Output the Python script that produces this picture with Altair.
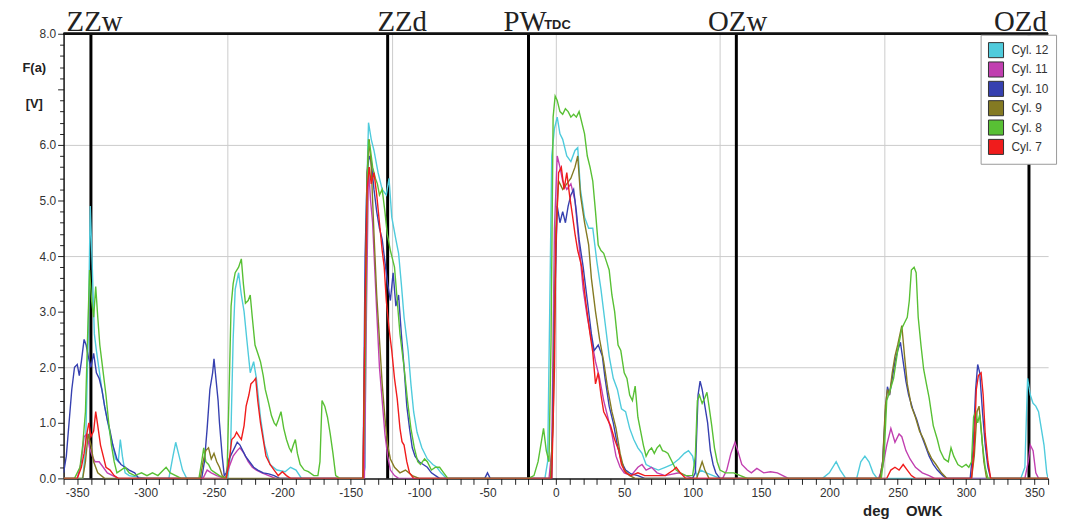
import altair as alt
import pandas as pd

# ---------------- data ----------------
names = ["Cyl. 12", "Cyl. 11", "Cyl. 10", "Cyl. 9", "Cyl. 8", "Cyl. 7"]
colors = ["#4fcbdc", "#c13fb0", "#3640b0", "#847a22", "#58c034", "#f01c1c"]

cyl12_x = [-360, -346, -344, -342, -340.5, -339, -337.5, -336, -334, -332, -330, -328, -326, -324, -322, -320,
           -318.5, -317, -315, -312, -300, -283, -280, -278, -276, -273, -270,
           -240, -238, -236, -234.5, -232, -230, -228, -226, -223.5, -221, -219, -216, -213, -209, -204, -198,
           -194, -190, -186,
           -141, -139.5, -138.5, -137, -135, -133, -130, -127, -124, -122, -120, -117, -115, -113, -111, -108,
           -106, -104, -101.5, -98, -94, -90, -87, -84, -80,
           -8, -6, -4.5, -3, -1, 1, 3, 5, 8, 11, 14, 16, 18, 21, 24, 27, 30, 33, 36, 39, 42, 45, 48, 51, 54, 57,
           60, 63, 66, 70, 75, 80, 85, 90, 94, 97, 100, 103, 106, 110, 115, 120,
           195, 200, 205, 208, 212, 220, 223, 226, 229, 232, 235,
           340, 343, 345, 347, 349, 351, 353, 355, 357, 359, 360]
cyl12_y = [0, 0, 0.5, 2.5, 4.9, 3.8, 2.6, 2.3, 1.95, 1.6, 1.3, 1.05, 0.8, 0.6, 0.35, 0.3,
           0.7, 0.4, 0.1, 0.05, 0, 0, 0.4, 0.65, 0.45, 0.15, 0,
           0, 0.4, 2.5, 3.4, 3.7, 3.3, 3.0, 2.5, 1.9, 2.1, 1.8, 1.1, 0.6, 0.25, 0.15, 0.12,
           0.2, 0.15, 0,
           0, 0.2, 5.0, 6.4, 6.1, 5.9, 5.5, 5.2, 5.1, 5.4, 4.7, 4.3, 4.05, 3.5, 2.9, 2.3,
           1.7, 1.2, 0.83, 0.55, 0.35, 0.25, 0.2, 0.1, 0,
           0, 0.3, 3.0, 5.8, 6.3, 6.5, 6.2, 6.1, 5.8, 5.7, 5.9, 5.95, 5.2, 4.7, 4.5, 4.5, 3.9, 3.4, 2.8, 2.2, 1.8,
           1.6, 1.25, 1.2, 0.9, 0.7,
           0.55, 0.45, 0.25, 0.2, 0.15, 0.2, 0.25, 0.35, 0.45, 0.5, 0.4, 0.05, 0.15, 0.1, 0.05, 0,
           0, 0.1, 0.3, 0.15, 0, 0, 0.3, 0.4, 0.3, 0.1, 0,
           0, 0.2, 1.8, 1.5, 1.35, 1.3, 1.2, 0.9, 0.6, 0.1, 0]

cyl11_x = [-360, -350, -347, -345, -343, -341, -339, -337, -334, -331, -328, -324, -320,
           -258, -255, -252, -248, -242, -239, -236, -233, -231, -228, -225, -222, -219, -215, -210, -205,
           -140, -138.5, -137, -135.5, -134, -132.5, -131, -129, -127, -125, -123, -121, -118, -115,
           -5, -3, -1, 1, 3, 5, 8, 11, 14, 17, 20, 23, 26, 29, 32, 35, 38, 41, 44, 47, 50, 55, 60, 63, 66, 70,
           74, 80, 90, 95, 100,
           122, 125, 128, 131, 133, 136, 140, 143, 147, 152, 157, 162, 166, 170,
           236, 239, 242, 245, 248, 251, 253, 256, 259, 263, 268, 273, 277,
           343, 345.5, 347, 349, 351, 353, 360]
cyl11_y = [0, 0, 0.3, 0.75, 0.8, 0.55, 0.4, 0.3, 0.3, 0.2, 0.1, 0.05, 0,
           0, 0.15, 0.1, 0.05, 0, 0.2, 0.4, 0.5, 0.55, 0.45, 0.3, 0.2, 0.15, 0.1, 0.05, 0,
           0, 3.0, 5.6, 5.0, 4.6, 3.8, 3.0, 2.0, 1.4, 0.8, 0.4, 0.15, 0.05, 0,
           0, 0.5, 4.5, 5.8, 5.6, 5.35, 5.2, 5.3, 5.0, 4.2, 3.4, 2.9, 2.5, 2.1, 1.8, 1.4, 1.1, 0.8, 0.4, 0.2, 0.1,
           0.05, 0.2, 0.25, 0.15, 0.2,
           0.1, 0.05, 0.1, 0.05, 0,
           0, 0.15, 0.45, 0.65, 0.5, 0.25, 0.15, 0.1, 0.18, 0.1, 0.12, 0.1, 0.05, 0,
           0, 0.2, 0.6, 0.9, 0.65, 0.8, 0.75, 0.5, 0.35, 0.2, 0.1, 0.05, 0,
           0, 0.3, 0.6, 0.5, 0.1, 0, 0]

cyl10_x = [-360, -358, -356, -354, -352, -350, -348.5, -347, -345, -343.5, -342, -340, -338, -336, -334, -332,
           -330, -328, -326, -324, -321, -318, -315, -312, -308, -305,
           -259, -257, -255, -253, -251, -250, -249, -247, -246, -244, -242.5, -241, -239, -237, -235, -233,
           -231, -229, -227, -224, -221, -218, -214, -210, -206, -202,
           -141, -139.5, -138, -136.5, -135, -133, -131, -129, -127, -125, -123, -121, -119, -117, -115, -113,
           -111, -109, -107, -105, -103, -100, -97, -94, -91, -88, -85,
           -52, -50, -48,
           -3, -1, 1, 3, 5, 7, 9, 11, 13, 15, 17, 20, 23, 26, 28, 31, 34, 36, 39, 42, 45, 48, 51, 55, 60, 65,
           100, 102, 104, 105.5, 107, 109, 111, 113, 115, 117, 120,
           237, 239, 241, 242.5, 244, 246, 248, 250, 252, 254, 256, 258, 261, 264, 267, 270, 273, 276, 279, 283,
           286, 303, 305, 307, 308.5, 310, 312, 314, 316, 318, 360]
cyl10_y = [0.1, 0.4, 1.0, 1.6, 2.0, 2.05, 1.85, 2.1, 2.5, 2.4, 2.2, 2.0, 2.25, 1.9, 1.8, 1.6,
           1.3, 1.05, 0.85, 0.6, 0.35, 0.25, 0.2, 0.15, 0.1, 0,
           0, 0.3, 0.9, 1.6, 1.9, 2.15, 1.9, 1.4, 1.0, 0.4, 0.05, 0.1, 0.35, 0.45, 0.55, 0.65,
           0.6, 0.5, 0.4, 0.3, 0.2, 0.15, 0.1, 0.08, 0.05, 0,
           0, 4.0, 5.5, 5.8, 5.7, 5.2, 4.8, 4.5, 4.3, 3.9, 3.5, 3.2, 3.7, 3.1, 3.3, 2.6,
           2.0, 1.3, 0.9, 0.55, 0.4, 0.3, 0.25, 0.2, 0.1, 0.05, 0,
           0, 0.1, 0,
           0, 3.0, 4.9, 4.6, 4.8, 4.6, 4.9, 5.1, 5.2, 4.8, 4.3, 3.8, 3.2, 2.6, 2.3, 2.4, 2.2, 1.8, 1.3, 1.0, 0.6,
           0.3, 0.15, 0.08, 0.05, 0,
           0, 0.1, 1.5, 1.75, 1.6, 1.3, 1.0, 0.5, 0.25, 0.1, 0,
           0, 0.3, 1.2, 1.65, 1.5, 1.8, 2.1, 2.3, 2.45, 2.1, 1.75, 1.5, 1.25, 1.05, 0.8, 0.6, 0.4, 0.25, 0.15,
           0.05, 0, 0, 0.5, 1.6, 2.05, 1.9, 1.2, 0.6, 0.2, 0, 0]

cyl9_x = [-360, -346, -344, -342, -340, -338, -335, -330,
          -260, -258, -256, -254, -252, -250, -248, -246, -244, -242,
          -141, -139.5, -138, -136.5, -135, -133, -131, -129, -127, -125, -123, -121, -118, -114, -110, -105,
          -100,
          -4, -2, 0, 2, 5, 8, 11, 14, 16, 18, 21, 24, 26, 29, 32, 35, 38, 41, 44, 47, 50, 54, 58,
          103, 105, 107, 109, 112,
          237, 239, 241, 242.5, 244, 246, 248, 250, 253, 255, 257, 260, 263, 266, 269, 272, 275, 278, 282, 286,
          304, 306, 308, 309.5, 311, 313, 315, 360]
cyl9_y = [0, 0, 0.3, 0.8, 0.6, 0.3, 0.1, 0,
          0, 0.3, 0.5, 0.55, 0.35, 0.45, 0.3, 0.2, 0.05, 0,
          0, 3.0, 5.5, 6.1, 5.6, 4.4, 3.3, 2.5, 1.7, 1.1, 0.6, 0.35, 0.2, 0.1, 0.15, 0.05,
          0,
          0, 1.0, 4.5, 5.35, 5.2, 5.3, 5.4, 5.6, 5.8, 5.1, 4.6, 4.2, 3.6, 3.0, 2.5, 2.1, 1.6, 1.2, 0.9, 0.45, 0.15,
          0.05, 0,
          0, 0.15, 0.3, 0.15, 0,
          0, 0.3, 1.3, 1.6, 1.5, 1.9, 2.2, 2.4, 2.75, 2.2, 1.7, 1.3, 1.1, 0.85, 0.7, 0.5, 0.35, 0.25, 0.1, 0,
          0, 0.4, 1.2, 1.3, 0.9, 0.3, 0, 0]

cyl8_x = [-360, -352, -350, -348, -346, -344, -342.5, -341, -339.5, -338, -336.5, -335, -333.5, -332, -330.5,
          -329, -327, -325, -323, -321, -318, -315, -312, -308, -303, -299, -295, -291, -287, -285, -282, -278,
          -274,
          -261, -259, -257.5, -256, -254, -252, -249, -246, -243, -240.5, -239, -237.5, -236, -234.5, -232, -230,
          -228.5, -227, -225, -223.5, -222, -220, -218, -216, -214, -212.5, -210, -208, -206, -204.5, -203, -201,
          -199, -197, -195, -193.5, -192, -190.5, -189, -187, -184, -181, -177, -174, -172.5, -171, -169, -167,
          -165, -163, -161, -158,
          -141, -139.5, -138, -137, -135.5, -134, -132, -130.5, -129, -127, -125, -123.3, -121, -118, -116, -114,
          -111, -108.5, -106, -103.5, -101, -99, -96, -94, -91, -88, -85, -82, -79,
          -20, -16, -13, -11, -9, -7, -5, -3.5, -2, -0.5, 1, 3, 5, 7, 9, 11, 13, 15, 17, 19, 21, 23, 25, 27, 29,
          31, 33, 35, 37, 39, 41, 43, 45.5, 47.5, 50, 52, 54, 56, 58, 60, 62, 64, 66, 68, 70, 72, 74, 76, 78, 80,
          82, 85, 88, 91, 95, 100, 102, 103.5, 105, 107, 109, 110.5, 112, 114, 116, 118, 120, 124, 130, 135, 140,
          238, 240, 242, 244, 247, 250, 253, 255, 257, 258.5, 260, 262, 263.5, 265, 267, 269, 271, 273, 276, 279,
          281, 284, 287, 289, 291, 294, 297, 300, 302, 304, 305.5, 307, 308.5, 310, 312, 314, 316, 360]
cyl8_y = [0, 0, 0.1, 0.2, 0.6, 1.2, 2.5, 3.75, 3.2, 2.9, 3.45, 2.9, 2.4, 2.1, 1.8,
          1.5, 1.0, 0.6, 0.3, 0.1, 0.15, 0.2, 0.1, 0.05, 0.1, 0.05, 0.1, 0.05, 0.15, 0.2, 0.1, 0.05,
          0,
          0, 0.3, 0.55, 0.3, 0.25, 0.15, 0.1, 0.05, 0, 0.05, 1.5, 3.1, 3.5, 3.7, 3.8, 3.95,
          3.5, 3.15, 3.2, 3.3, 2.9, 2.4, 2.25, 2.1, 1.85, 1.6, 1.35, 1.13, 1.0, 0.95, 1.05, 1.2,
          0.9, 0.7, 0.55, 0.48, 0.6, 0.7, 0.45, 0.25, 0.15, 0.12, 0.05, 0.05, 0.3, 1.4, 1.3, 1.1,
          0.8, 0.45, 0.05, 0,
          0, 2.0, 5.2, 6.1, 5.9, 5.6, 5.4, 5.3, 5.1, 5.2, 4.8, 4.4, 4.1, 3.8, 3.2, 2.6,
          2.0, 1.4, 0.9, 0.55, 0.3, 0.25, 0.35, 0.3, 0.15, 0.2, 0.2, 0.1, 0,
          0, 0.05, 0.3, 0.6, 0.9, 0.5, 0.3, 2.5, 6.5, 6.88, 6.8, 6.6, 6.55, 6.65, 6.6, 6.5, 6.55, 6.5, 6.6, 6.4,
          6.2, 5.8, 5.6, 5.35, 4.8,
          4.2, 4.1, 4.05, 3.9, 3.75, 3.3, 3.0, 2.4, 2.3, 1.9, 1.8, 1.5, 1.4, 1.66, 1.1, 0.85, 0.6, 0.4, 0.5, 0.55,
          0.45, 0.55, 0.6, 0.5, 0.48,
          0.45, 0.3, 0.15, 0.1, 0.05, 0.05, 0.4, 1.4, 1.5, 1.35, 1.45, 1.55, 1.3, 0.95, 0.55, 0.3, 0.15, 0.1, 0.1,
          0.05, 0,
          0, 0.4, 1.4, 1.55, 1.8, 2.3, 2.7, 2.8, 2.9, 3.2, 3.75, 3.8, 3.7, 2.9, 2.4, 1.96, 1.7, 1.45, 0.95, 0.7,
          0.5, 0.35, 0.3, 0.55, 0.4, 0.25, 0.2, 0.25, 0.2, 0.3, 1.1, 1.2, 1.0, 1.15, 0.6, 0.2, 0, 0]

cyl7_x = [-360, -350, -347, -345, -343, -341.5, -340, -338, -336.5, -335, -333, -331, -329, -326, -323, -320,
          -241, -239, -237, -235, -233.5, -231.5, -230, -228, -226.5, -224.5, -223, -221, -219.5, -218, -216,
          -214, -212, -209, -206, -203, -200, -197, -194,
          -141, -139.5, -138, -136.5, -135, -133, -131, -129, -127, -125.5, -124, -122, -120, -118, -116, -114,
          -112.5, -111, -109, -107, -104,
          -3, -1, 0, 2, 4, 6, 8, 10, 12, 14, 16, 19, 22, 25, 27, 29, 31, 33, 35, 37, 40, 43, 46, 48, 51, 55, 60,
          65, 70, 80, 86, 88, 91, 95,
          242, 245, 248, 251, 254, 257, 260, 263,
          304, 306, 307.5, 309, 311, 312.5, 314, 316, 318, 360]
cyl7_y = [0, 0, 0.2, 0.45, 0.8, 1.0, 0.75, 0.85, 1.2, 0.95, 0.6, 0.4, 0.2, 0.15, 0.05, 0,
          0, 0.3, 0.7, 0.75, 0.83, 0.75, 0.7, 0.95, 1.3, 1.5, 1.7, 1.75, 1.8, 1.4, 1.0,
          0.7, 0.4, 0.25, 0.15, 0.05, 0.12, 0.05, 0,
          0, 3.0, 5.2, 5.6, 5.3, 5.5, 5.1, 4.6, 4.1, 3.8, 3.2, 2.7, 2.3, 1.8, 1.43, 0.9,
          0.66, 0.6, 0.3, 0.1, 0,
          0, 2.0, 4.16, 5.5, 5.6, 5.2, 5.5, 5.1, 4.76, 4.4, 4.1, 3.8, 3.15, 2.6, 2.27, 1.7, 1.9, 1.5, 1.2, 1.1,
          0.95, 0.7, 0.5, 0.25, 0.1, 0.05, 0.1,
          0.05, 0.05, 0.05, 0.15, 0.2, 0.1, 0,
          0, 0.15, 0.2, 0.15, 0.25, 0.15, 0.05, 0,
          0, 0.6, 1.6, 1.85, 1.9, 1.5, 0.8, 0.3, 0, 0]

# event markers drawn as black vertical lines, with their captions above the plot
marker_names = ["ZZw", "ZZd", "PW", "OZw", "OZd"]
marker_deg = [-340, -123, -20, 132, 346]
caption_deg = [-357.8, -130.5, -38.3, 111.3, 320.5]
sub_caption = ["TDC"]
sub_caption_deg = [-8.5]

# axis tick positions
x_minor_ticks = list(range(-360, 361, 10))
y_minor_ticks = [i / 5 for i in range(41)]

# ---------------- build tables ----------------
series = [
    (names[0], cyl12_x, cyl12_y),
    (names[1], cyl11_x, cyl11_y),
    (names[2], cyl10_x, cyl10_y),
    (names[3], cyl9_x, cyl9_y),
    (names[4], cyl8_x, cyl8_y),
    (names[5], cyl7_x, cyl7_y),
]
rows = []
for k, (nm, xv, yv) in enumerate(series):
    assert len(xv) == len(yv), nm
    for x, y in zip(xv, yv):
        rows.append({"cyl": nm, "deg": x, "v": y, "k": k})
df = pd.DataFrame(rows)
markers = pd.DataFrame({"name": marker_names, "deg": marker_deg, "cap": caption_deg})
subs = pd.DataFrame({"name": sub_caption, "cap": sub_caption_deg})
legend_df = pd.DataFrame({"cyl": names})

W, H = 992, 448
xs = alt.Scale(domain=[-360, 360], nice=False, zero=False)
ys = alt.Scale(domain=[0, 8], nice=False)

x_axis = alt.Axis(
    values=x_minor_ticks,
    labelExpr="(datum.value % 50 === 0) && (abs(datum.value) < 360) ? (datum.value < 0 ? '-' + abs(datum.value) : '' + datum.value) : ''",
    labelOverlap=False, labelFlush=False, labelBound=False,
    labelFont="Liberation Sans", labelFontSize=12, labelColor="#333333", labelPadding=3,
    tickSize=6, tickColor="#222222", tickWidth=1,
    domainColor="#111111", domainWidth=1.5,
    grid=True, gridColor="#cccccc", gridWidth=1,
    gridOpacity={"condition": {"test": "(datum.value % 120 === 0) && (abs(datum.value) < 360)", "value": 1}, "value": 0},
    title="deg\u00a0\u00a0\u00a0\u00a0OWK", titleFont="Liberation Sans", titleFontSize=15, titleFontWeight="bold",
    titleColor="#222222", titleX=845, titleY=37, titleAlign="center", titleBaseline="alphabetic",
)
y_axis = alt.Axis(
    values=y_minor_ticks,
    labelExpr="(abs(datum.value - round(datum.value)) < 0.01) && (abs(datum.value - 7) > 0.01) ? format(datum.value, '.1f') : ''",
    labelOverlap=False, labelFlush=False, labelBound=False,
    labelFont="Liberation Sans", labelFontSize=12, labelColor="#333333", labelPadding=2,
    tickSize={"condition": {"test": "abs(datum.value - round(datum.value)) < 0.01", "value": 6}, "value": 4},
    tickColor="#222222", tickWidth=1,
    domainColor="#111111", domainWidth=1.5,
    grid=True, gridColor="#cccccc", gridWidth=1,
    gridOpacity={"condition": {"test": "(abs(datum.value - 2) < 0.01) || (abs(datum.value - 4) < 0.01) || (abs(datum.value - 6) < 0.01)", "value": 1}, "value": 0},
    title=["F(a)", "[V]"], titleAngle=0, titleFont="Liberation Sans", titleFontSize=13,
    titleFontWeight="bold", titleColor="#222222", titleX=-30, titleY=34, titleAlign="center",
    titleBaseline="middle", titleLineHeight=36,
)

legend_spec = alt.Legend(
    title="", orient="none", legendX=924, legendY=1,
    fillColor="#ffffff", strokeColor="#9a9a9a", padding=7,
    symbolType="square", symbolSize=230, symbolStrokeColor="#333333",
    symbolStrokeWidth=1, symbolOpacity=1, rowPadding=-1.5,
    labelFont="Liberation Sans", labelFontSize=12, labelColor="#333333",
    labelOffset=7,
)

vlines = alt.Chart(markers).mark_rule(color="#000000", strokeWidth=3).encode(
    x=alt.X("deg:Q", scale=xs, axis=None)
)

lines = alt.Chart(df).mark_line(strokeWidth=1.4, clip=True, interpolate="linear").encode(
    x=alt.X("deg:Q", scale=xs, axis=x_axis),
    y=alt.Y("v:Q", scale=ys, axis=y_axis),
    color=alt.Color("cyl:N", scale=alt.Scale(domain=names, range=colors), legend=None),
    order=alt.Order("deg:Q"),
)

top_line = alt.Chart(markers).mark_rule(color="#111111", strokeWidth=2).encode(
    y=alt.datum(8, scale=ys, axis=None)
)

captions = alt.Chart(markers).mark_text(
    align="left", baseline="alphabetic", dy=-3, font="Liberation Serif", fontSize=29, color="#222222"
).encode(x=alt.X("cap:Q", scale=xs, axis=None), y=alt.datum(8, scale=ys, axis=None), text="name:N")

sub_caps = alt.Chart(subs).mark_text(
    align="left", baseline="alphabetic", dy=-5, font="Liberation Sans", fontSize=13, fontWeight="bold",
    color="#222222"
).encode(x=alt.X("cap:Q", scale=xs, axis=None), y=alt.datum(8, scale=ys, axis=None), text="name:N")

legend_layer = alt.Chart(legend_df).mark_square(size=200, filled=True, opacity=0).encode(
    fill=alt.Fill("cyl:N", scale=alt.Scale(domain=names, range=colors), legend=legend_spec),
)

chart = alt.layer(vlines, lines, top_line, captions, sub_caps, legend_layer).resolve_axis(
    x="independent", y="independent"
).resolve_legend(fill="independent", color="independent").properties(
    width=W, height=H,
    autosize=alt.AutoSizeParams(type="none"),
    padding={"left": 56, "top": 24, "right": 15, "bottom": 44},
    background="#ffffff",
).configure_view(stroke="transparent")

chart.save("out.html", embed_options={"renderer": "svg", "actions": False})
